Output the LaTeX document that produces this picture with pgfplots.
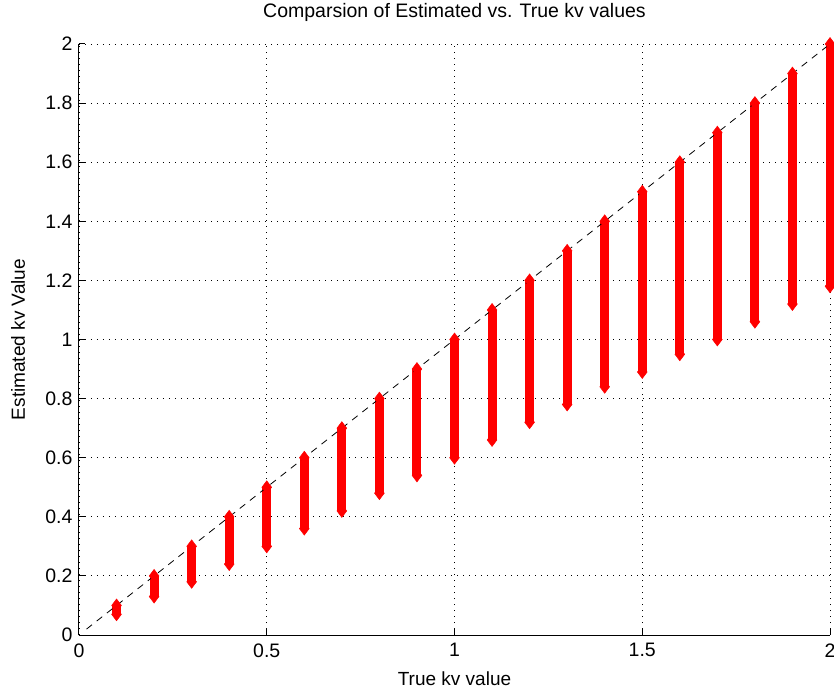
\documentclass[border=0pt]{standalone}
\usepackage{pgfplots}
\pgfplotsset{compat=1.18}
\usepackage{fontspec}
\setmainfont{Liberation Sans}
\begin{document}
\begin{tikzpicture}
\begin{axis}[
  scale only axis, width=751pt, height=591pt,
  xmin=0, xmax=2, ymin=0, ymax=2,
  xtick={0,0.5,1,1.5,2},
  ytick={0,0.2,0.4,0.6,0.8,1,1.2,1.4,1.6,1.8,2},
  axis x line*=bottom, axis y line*=left,
  axis line style={black, line width=1pt, -},
  tick align=inside, major tick length=6pt,
  tick style={black, line width=1pt},
  grid=major,
  grid style={black, line width=0.9pt, dash pattern=on 0.9pt off 5.1pt},
  font=\fontsize{19}{21}\selectfont,
  ticklabel style={font=\fontsize{19.5}{21}\selectfont},
  xticklabel style={yshift=-5pt},
  yticklabel style={xshift=-3pt},
  /pgf/number format/assume math mode=true,
  title={Comparsion of Estimated vs. True kv values},
  xlabel={True kv value},
  ylabel={Estimated kv Value},
  title style={at={(0.5,1.044)}, anchor=center, font=\fontsize{19.5}{21}\selectfont},
  xlabel style={at={(0.5,-0.074)}, anchor=center, font=\fontsize{19}{21}\selectfont},
  ylabel style={at={(-0.0812,0.5)}, anchor=center, font=\fontsize{19}{21}\selectfont},
  clip=false,
  unbounded coords=jump,
]
\addplot[red, line width=9pt, mark=diamond*, mark size=6.5pt, mark options={solid, fill=red, draw=red, line width=0.5pt}]
 coordinates {
 (0.1,0.07) (0.1,0.1) (0.1,nan)
 (0.2,0.13) (0.2,0.2) (0.2,nan)
 (0.3,0.18) (0.3,0.3) (0.3,nan)
 (0.4,0.24) (0.4,0.4) (0.4,nan)
 (0.5,0.30) (0.5,0.5) (0.5,nan)
 (0.6,0.36) (0.6,0.6) (0.6,nan)
 (0.7,0.42) (0.7,0.7) (0.7,nan)
 (0.8,0.48) (0.8,0.8) (0.8,nan)
 (0.9,0.54) (0.9,0.9) (0.9,nan)
 (1.0,0.60) (1.0,1.0) (1.0,nan)
 (1.1,0.66) (1.1,1.1) (1.1,nan)
 (1.2,0.72) (1.2,1.2) (1.2,nan)
 (1.3,0.78) (1.3,1.3) (1.3,nan)
 (1.4,0.84) (1.4,1.4) (1.4,nan)
 (1.5,0.89) (1.5,1.5) (1.5,nan)
 (1.6,0.95) (1.6,1.6) (1.6,nan)
 (1.7,1.00) (1.7,1.7) (1.7,nan)
 (1.8,1.06) (1.8,1.8) (1.8,nan)
 (1.9,1.12) (1.9,1.9) (1.9,nan)
 (2.0,1.18) (2.0,2.0)
 };
\addplot[black, line width=0.8pt, dash pattern=on 7pt off 6pt, no marks]
 coordinates {(0.02,0.02) (2,2)};
\end{axis}
\pgfresetboundingbox
\path ([shift={(-79pt,-56pt)}]current axis.south west) rectangle ([shift={(4pt,44pt)}]current axis.north east);
\end{tikzpicture}
\end{document}
